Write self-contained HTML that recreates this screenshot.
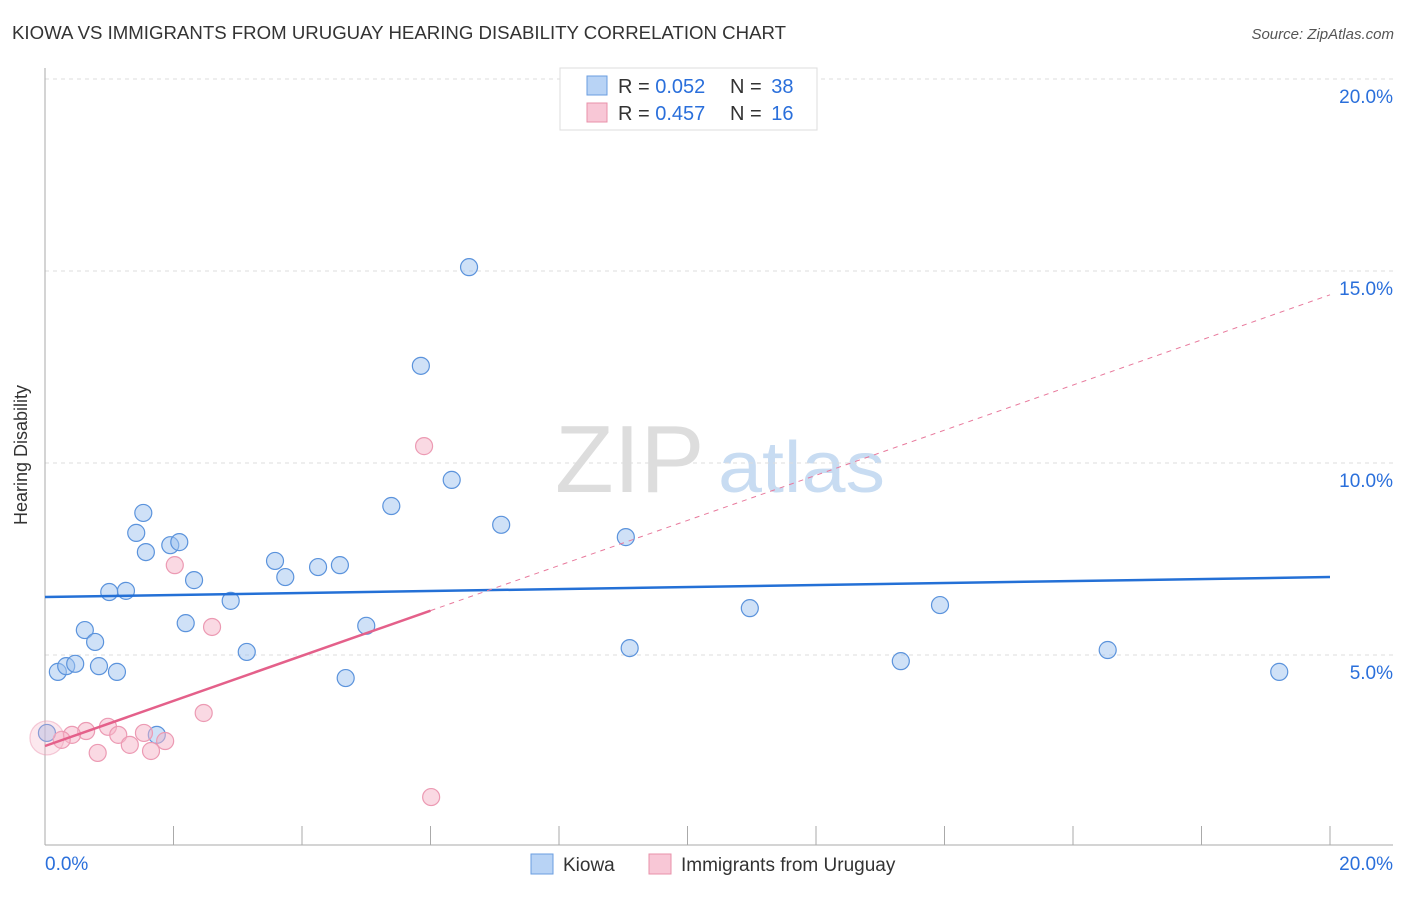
<!DOCTYPE html>
<html><head><meta charset="utf-8"><style>
body{margin:0;background:#fff;font-family:"Liberation Sans",sans-serif;}
svg text{font-family:"Liberation Sans",sans-serif;}
</style></head><body>
<svg width="1406" height="892" xmlns="http://www.w3.org/2000/svg">
<text x="12" y="39" font-size="18" fill="#333" textLength="774" lengthAdjust="spacingAndGlyphs">KIOWA VS IMMIGRANTS FROM URUGUAY HEARING DISABILITY CORRELATION CHART</text>
<text x="1394" y="39" font-size="15" fill="#555" text-anchor="end" font-style="italic">Source: ZipAtlas.com</text>
<text x="27" y="455" font-size="18" fill="#333" text-anchor="middle" transform="rotate(-90 27 455)">Hearing Disability</text>
<text x="555" y="492" font-size="96" fill="#ddd" font-family="Liberation Serif">ZIP</text>
<text x="718" y="492" font-size="72" fill="#c8dcf2" textLength="167" lengthAdjust="spacingAndGlyphs">atlas</text>
<g id="grid"></g><g id="axes"></g><g id="marks"></g>
<g>
<rect x="560" y="68" width="257" height="62" fill="#fff" stroke="#ddd"/>
<rect x="587" y="76" width="20" height="19" fill="#b8d3f5" stroke="#6a9ee0"/>
<text x="618" y="93" font-size="20" fill="#333">R = <tspan fill="#2a6fdb">0.052</tspan></text>
<text x="730" y="93" font-size="20" fill="#333">N = <tspan dx="4" fill="#2a6fdb">38</tspan></text>
<rect x="587" y="103" width="20" height="19" fill="#f8c7d6" stroke="#e890aa"/>
<text x="618" y="120" font-size="20" fill="#333">R = <tspan fill="#2a6fdb">0.457</tspan></text>
<text x="730" y="120" font-size="20" fill="#333">N = <tspan dx="4" fill="#2a6fdb">16</tspan></text>
</g>
<g>
<rect x="531" y="854" width="22" height="20" fill="#b8d3f5" stroke="#6a9ee0"/>
<text x="563" y="871" font-size="19" fill="#333">Kiowa</text>
<rect x="649" y="854" width="22" height="20" fill="#f8c7d6" stroke="#e890aa"/>
<text x="681" y="871" font-size="19" fill="#333">Immigrants from Uruguay</text>
</g>
</svg>
<script>
const kiowaX=[6.60,5.85,5.39,6.33,7.10,9.04,1.53,1.42,1.57,1.95,2.09,3.58,3.74,4.25,4.59,2.32,1.00,1.26,2.89,2.19,0.62,0.78,5.00,3.14,0.20,0.33,0.47,0.84,1.12,4.68,1.74,10.97,9.10,13.93,13.32,16.54,19.21,0.03];
const kiowaY=[15.10,12.53,8.88,9.56,8.39,8.07,8.70,8.18,7.68,7.86,7.94,7.45,7.03,7.29,7.34,6.95,6.64,6.67,6.41,5.83,5.65,5.34,5.76,5.08,4.56,4.71,4.77,4.71,4.56,4.40,2.92,6.22,5.18,6.30,4.84,5.13,4.56,2.97];
const uruX=[5.90,2.02,2.60,2.47,0.98,0.64,0.42,0.26,1.14,1.54,1.32,1.65,1.87,0.82,6.01,0.03];
const uruY=[10.44,7.34,5.73,3.49,3.13,3.02,2.92,2.79,2.92,2.97,2.66,2.50,2.76,2.45,1.30,2.84];
const uruSize=[1,1,1,1,1,1,1,1,1,1,1,1,1,1,1,2];
const kiowaTrend=[6.51,7.03];
const uruTrend=[2.63,14.38];
const yTicks=[5,10,15,20];
const yTickLabels=["5.0%","10.0%","15.0%","20.0%"];
const xTicks=[0,2,4,6,8,10,12,14,16,18,20];
const xEndLabels=["0.0%","20.0%"];
const NS="http://www.w3.org/2000/svg";
const sx=v=>45+v/20*1285, sy=v=>847-v/5*192;
function mk(tag,attrs,parent){const e=document.createElementNS(NS,tag);for(const k in attrs)e.setAttribute(k,attrs[k]);document.getElementById(parent).appendChild(e);return e;}
const g='grid';
yTicks.forEach((t,i)=>{
 const l=mk('line',{x1:45,x2:1393,y1:sy(t),y2:sy(t),stroke:'#ddd','stroke-dasharray':'4,4'},g);
 
 
 const tx=mk('text',{x:1393,y:sy(t)+24,'font-size':19,fill:'#2a6fdb','text-anchor':'end'},g);
 tx.textContent=yTickLabels[i];
 
 
});
const a1=mk('line',{x1:45,x2:45,y1:68,y2:845,stroke:'#aaa'},'axes');


const a2=mk('line',{x1:45,x2:1393,y1:845,y2:845,stroke:'#aaa'},'axes');


xTicks.forEach(t=>{const l=mk('line',{x1:sx(t),x2:sx(t),y1:826,y2:845,stroke:'#aaa'},'axes');
 
 });
[[0,'start',45],[20,'end',1393]].forEach((d,i)=>{const t=mk('text',{x:d[2],y:870,'font-size':19,fill:'#2a6fdb','text-anchor':d[1]},'axes');t.textContent=xEndLabels[i];
 
 });
const m='marks';
kiowaX.forEach((x,i)=>{const c=mk('circle',{cx:sx(x),cy:sy(kiowaY[i]),r:8.5,fill:'rgba(160,196,240,0.5)',stroke:'#5b93dc','stroke-width':1.2},m);
 
 });
uruX.forEach((x,i)=>{const big=uruSize[i]>1;const c=mk('circle',{cx:sx(x),cy:sy(uruY[i]),r:8.5*uruSize[i],fill:big?'rgba(246,180,200,0.3)':'rgba(246,180,200,0.5)',stroke:big?'rgba(236,154,179,0.5)':'#ec9ab3','stroke-width':1.2},m);
 
 });
const kl=mk('line',{x1:sx(0),y1:sy(kiowaTrend[0]),x2:sx(20),y2:sy(kiowaTrend[1]),stroke:'#2470d6','stroke-width':2.5},m);


const ue=x=>uruTrend[0]+(uruTrend[1]-uruTrend[0])*x/20;
const ud=mk('line',{x1:sx(6),y1:sy(ue(6)),x2:sx(20),y2:sy(ue(20)),stroke:'#e8799c','stroke-width':1,'stroke-dasharray':'5,5'},m);


const us=mk('line',{x1:sx(0),y1:sy(ue(0)),x2:sx(6),y2:sy(ue(6)),stroke:'#e4608a','stroke-width':2.5},m);


</script>
</body></html>
